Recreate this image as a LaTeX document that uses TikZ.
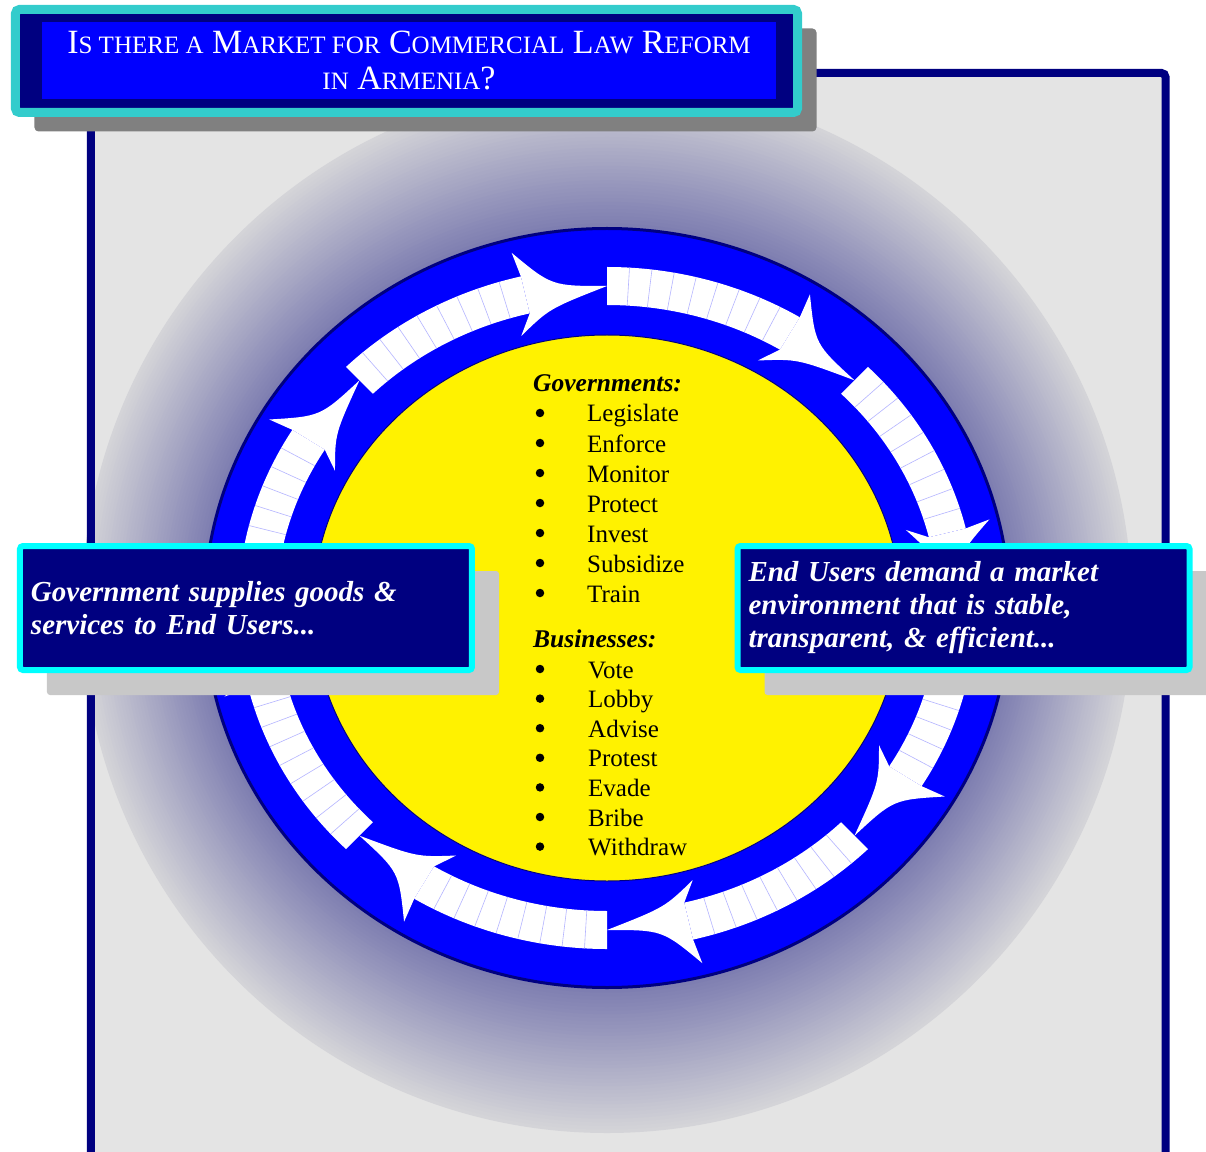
\documentclass[tikz,border=0pt]{standalone}
\usepackage{fontspec}
\setmainfont{Liberation Serif}
\usetikzlibrary{shadows}
\definecolor{navy}{HTML}{000080}
\definecolor{ringblue}{HTML}{0000FF}
\definecolor{turq}{HTML}{33CCCC}
\definecolor{aqua}{HTML}{00FFFF}
\definecolor{panel}{HTML}{E4E4E4}
\definecolor{haloin}{RGB}{124,124,176}
\definecolor{haloout}{RGB}{212,212,216}
\definecolor{segline}{HTML}{B4B4FF}
\definecolor{boxshade}{HTML}{C8C8C8}
\newcommand\smc[1]{{\fontsize{25}{36}\selectfont #1}}
\begin{document}
\begin{tikzpicture}[x=1pt,y=1pt,
	sidebox/.style={draw=aqua,fill=navy,line width=6pt,rounded corners=3pt,minimum width=452pt,minimum height=124pt,inner xsep=8pt,text width=430pt,align=left,text=white,font=\fontsize{29}{33}\selectfont\bfseries\itshape,drop shadow={shadow xshift=27pt,shadow yshift=-25pt,fill=boxshade,opacity=1}},
	listhead/.style={anchor=base west,inner sep=0pt,font=\fontsize{25.5}{30}\selectfont\bfseries\itshape},
	listitem/.style={anchor=base west,inner sep=0pt,font=\fontsize{25}{30}\selectfont},
	bul/.style={circle,fill=black,inner sep=0pt,minimum size=8.5pt},
	seg/.style={segline,line width=0.6pt}]
\useasboundingbox (-607,-543) rectangle (599,608);
% panel and halo
\fill[panel] (-516,535) rectangle (558.5,-600);
\foreach \i in {0,...,40}{
	\pgfmathsetmacro\p{2.5*\i}
	\fill[haloin!\p!haloout] (0,0) ellipse ({525-3.025*\i} and {525-3.6*\i});}
\draw[navy,line width=8pt,rounded corners=4pt] (-516,-600) |- (558.5,535) -- (558.5,-600);
% ring
\filldraw[fill=ringblue,draw=navy,line width=3pt] (0,0) ellipse (402.5 and 379.5);
\filldraw[fill=yellow,draw=navy,line width=1pt] (0,0) ellipse (294 and 273);
\foreach \t [evaluate=\t as \s using \t+45, evaluate=\t as \e using \t+13.5] in {90,45,...,-225}{
	\fill[white] (\s:369 and 341) arc[start angle=\s,end angle=\e,x radius=369,y radius=341]
		-- (\e:331 and 303) arc[start angle=\e,end angle=\s,x radius=331,y radius=303] -- cycle;
	\foreach \k in {1,...,8}
		\draw[seg] ({\e+3.5*\k}:331 and 303) -- ({\e+3.5*\k}:369 and 341);
	\fill[white] (\e:369 and 341) -- ({\t+14}:394 and 366)
		.. controls ({\t+9}:354 and 326) .. (\t:350 and 322)
		.. controls ({\t+10}:332 and 304) .. ({\t+16}:311 and 283)
		-- (\e:331 and 303) -- cycle;
}
% lists
\node[listhead] (gov) at (-74,216) {Governments:};
\foreach \w [count=\i] in {Legislate,Enforce,Monitor,Protect,Invest,Subsidize,Train}{
	\node[bul] (gb\i) at (-67,{225-30*\i}) {};
	\node[listitem] (g\i) at (-20,{216-30*\i}) {\w};}
\node[listhead] (bus) at (-74,-39) {Businesses:};
\foreach \w [count=\i] in {Vote,Lobby,Advise,Protest,Evade,Bribe,Withdraw}{
	\node[bul] (bb\i) at (-67,{-31.4-29.6*\i}) {};
	\node[listitem] (b\i) at (-19,{-40.4-29.6*\i}) {\w};}
% side boxes
\node[sidebox] (supply) at (-361,0) {Government supplies goods \&\\services to End Users...};
\node[sidebox] (demand) at (356.5,0) {End Users demand a market\\environment that is stable,\\transparent, \& efficient...};
% title
\node[draw=turq,fill=navy,line width=9pt,rounded corners=4pt,minimum width=782pt,minimum height=103pt,
	drop shadow={shadow xshift=19pt,shadow yshift=-19pt,fill=gray,opacity=1}] (titlebg) at (-200.5,547) {};
\node[fill=ringblue,minimum width=734pt,minimum height=77pt,text=white,align=center,
	font=\fontsize{34}{36}\selectfont] (title) at (-198,547.5)
	{I\smc{S THERE A} M\smc{ARKET FOR} C\smc{OMMERCIAL} L\smc{AW} R\smc{EFORM}\\\smc{IN} A\smc{RMENIA}?};
\end{tikzpicture}
\end{document}
